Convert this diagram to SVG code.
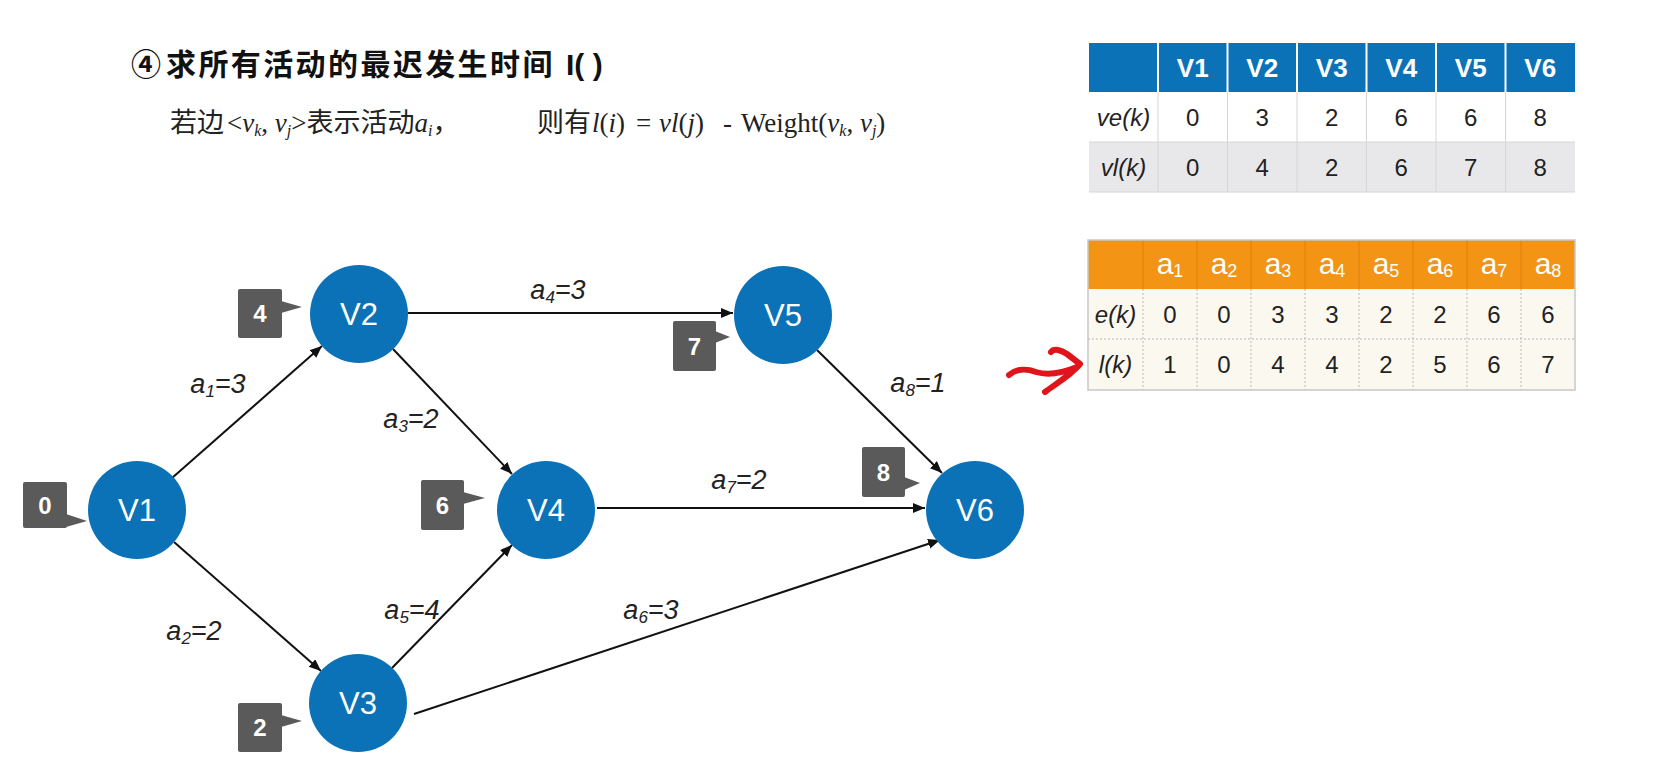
<svg xmlns="http://www.w3.org/2000/svg" width="1664" height="774" viewBox="0 0 1664 774">
<style>
.node{fill:#0B72B8}
.nlabel{font-family:"Liberation Sans",Arial,sans-serif;font-size:31px;fill:#fff;text-anchor:middle}
.badge{fill:#5A5A5A}
.blabel{font-family:"Liberation Sans",Arial,sans-serif;font-size:24px;font-weight:bold;fill:#fff;text-anchor:middle}
.edge{stroke:#111;stroke-width:2;fill:none;marker-end:url(#arrow)}
.elabel{font-family:"Liberation Sans",Arial,sans-serif;font-style:italic;font-size:27px;fill:#222;text-anchor:middle}
.sub{font-size:17px}
.title{font-family:"Liberation Sans","Noto Sans CJK SC",sans-serif;font-weight:bold;font-size:30px;fill:#111}
.cjk{font-family:"Noto Sans CJK SC",sans-serif;font-size:27px;fill:#222}
.math{font-family:"Liberation Serif","Noto Sans CJK SC",serif;font-size:27px;fill:#222}
.msub{font-size:16px}
.it{font-style:italic}
.th1{font-family:"Liberation Sans",Arial,sans-serif;font-weight:bold;font-size:26px;fill:#fff;text-anchor:middle}
.td1{font-family:"Liberation Sans",Arial,sans-serif;font-size:24px;fill:#222;text-anchor:middle}
.th2{font-family:"Liberation Sans",Arial,sans-serif;font-size:30px;fill:#fff;text-anchor:middle}
.th2 .sub{font-size:18px}
.td2{font-family:"Liberation Sans",Arial,sans-serif;font-size:24px;fill:#222;text-anchor:middle}
.dot{stroke:#B8B8B8;stroke-width:1;stroke-dasharray:2 2}
</style>
<defs>
<marker id="arrow" markerUnits="userSpaceOnUse" markerWidth="13" markerHeight="11" refX="12" refY="5" orient="auto">
<path d="M0,0 L12,5 L0,10 z" fill="#111"/>
</marker>
</defs>
<rect width="1664" height="774" fill="#fff"/>

<g id="title">
<text class="title" y="75"><tspan x="131">④</tspan><tspan x="166" letter-spacing="2.4">求所有活动的最迟发生时间</tspan><tspan x="566">I( )</tspan></text>
</g>
<g id="formula">
<text y="132">
<tspan class="cjk" x="170">若边</tspan>
<tspan class="math" x="227">&lt;</tspan><tspan class="math it">v</tspan><tspan class="math it msub" dy="4">k</tspan><tspan class="math" dy="-4">, </tspan><tspan class="math it">v</tspan><tspan class="math it msub" dy="4">j</tspan><tspan class="math" dy="-4">&gt;</tspan><tspan class="cjk">表示活动</tspan><tspan class="math it">a</tspan><tspan class="math it msub" dy="4">i</tspan><tspan class="cjk" dy="-4">，</tspan>
<tspan class="cjk" x="537">则有</tspan>
<tspan class="math it" x="592">l</tspan><tspan class="math">(</tspan><tspan class="math it">i</tspan><tspan class="math">)</tspan>
<tspan class="math" x="636">=</tspan>
<tspan class="math it" x="659">vl</tspan><tspan class="math">(</tspan><tspan class="math it">j</tspan><tspan class="math">)</tspan>
<tspan class="math" x="723">-</tspan>
<tspan class="math" x="741">Weight(</tspan><tspan class="math it">v</tspan><tspan class="math it msub" dy="4">k</tspan><tspan class="math" dy="-4">, </tspan><tspan class="math it">v</tspan><tspan class="math it msub" dy="4">j</tspan><tspan class="math" dy="-4">)</tspan>
</text>
</g>

<g id="connectors">
<line class="edge" x1="172" y1="478" x2="322" y2="346"/>
<line class="edge" x1="174" y1="542" x2="321" y2="671"/>
<line class="edge" x1="393" y1="349" x2="512" y2="474"/>
<line class="edge" x1="408" y1="313" x2="733" y2="313"/>
<line class="edge" x1="392" y1="668" x2="512" y2="545"/>
<line class="edge" x1="414" y1="714" x2="940" y2="540"/>
<line class="edge" x1="597" y1="508" x2="925" y2="508"/>
<line class="edge" x1="817" y1="350" x2="942" y2="473"/>
<text class="elabel" x="218" y="393">a<tspan class="sub" dy="4">1</tspan><tspan dy="-4">=3</tspan></text>
<text class="elabel" x="194" y="640">a<tspan class="sub" dy="4">2</tspan><tspan dy="-4">=2</tspan></text>
<text class="elabel" x="411" y="428">a<tspan class="sub" dy="4">3</tspan><tspan dy="-4">=2</tspan></text>
<text class="elabel" x="558" y="299">a<tspan class="sub" dy="4">4</tspan><tspan dy="-4">=3</tspan></text>
<text class="elabel" x="412" y="619">a<tspan class="sub" dy="4">5</tspan><tspan dy="-4">=4</tspan></text>
<text class="elabel" x="651" y="619">a<tspan class="sub" dy="4">6</tspan><tspan dy="-4">=3</tspan></text>
<text class="elabel" x="739" y="489">a<tspan class="sub" dy="4">7</tspan><tspan dy="-4">=2</tspan></text>
<text class="elabel" x="918" y="392">a<tspan class="sub" dy="4">8</tspan><tspan dy="-4">=1</tspan></text>
</g>

<g id="node-V1">
<circle class="node" cx="137" cy="510" r="49"/>
<text class="nlabel" x="137" y="521">V1</text>
<rect class="badge" x="23" y="482" width="44" height="46" rx="2"/>
<polygon class="badge" points="66,514 87,521 66,527"/>
<text class="blabel" x="45" y="514">0</text>
</g>
<g id="node-V2">
<circle class="node" cx="359" cy="314" r="49"/>
<text class="nlabel" x="359" y="325">V2</text>
<rect class="badge" x="238" y="289" width="44" height="49" rx="2"/>
<polygon class="badge" points="281,301 302,307 281,313"/>
<text class="blabel" x="260" y="322">4</text>
</g>
<g id="node-V3">
<circle class="node" cx="358" cy="703" r="49"/>
<text class="nlabel" x="358" y="714">V3</text>
<rect class="badge" x="238" y="703" width="44" height="49" rx="2"/>
<polygon class="badge" points="281,715 302,721 281,727"/>
<text class="blabel" x="260" y="736">2</text>
</g>
<g id="node-V4">
<circle class="node" cx="546" cy="510" r="49"/>
<text class="nlabel" x="546" y="521">V4</text>
<rect class="badge" x="421" y="480" width="43" height="50" rx="2"/>
<polygon class="badge" points="463,492 485,498 463,504"/>
<text class="blabel" x="442.5" y="514">6</text>
</g>
<g id="node-V5">
<circle class="node" cx="783" cy="315" r="49"/>
<text class="nlabel" x="783" y="326">V5</text>
<rect class="badge" x="673" y="321" width="43" height="50" rx="2"/>
<polygon class="badge" points="715,331 730,337 715,343"/>
<text class="blabel" x="694.5" y="355">7</text>
</g>
<g id="node-V6">
<circle class="node" cx="975" cy="510" r="49"/>
<text class="nlabel" x="975" y="521">V6</text>
<rect class="badge" x="862" y="447" width="43" height="50" rx="2"/>
<polygon class="badge" points="904,477 920,483 904,490"/>
<text class="blabel" x="883.5" y="481">8</text>
</g>

<g id="table-vertex">
<rect x="1089" y="43" width="486" height="49" fill="#0B72B8"/>
<rect x="1089" y="92" width="486" height="50" fill="#fff"/>
<rect x="1089" y="142" width="486" height="50" fill="#E8E8EB"/>
<g stroke="#fff" stroke-width="2">
<line x1="1158" y1="43" x2="1158" y2="92"/><line x1="1227.5" y1="43" x2="1227.5" y2="92"/><line x1="1297" y1="43" x2="1297" y2="92"/><line x1="1366.5" y1="43" x2="1366.5" y2="92"/><line x1="1436" y1="43" x2="1436" y2="92"/><line x1="1505.5" y1="43" x2="1505.5" y2="92"/>
</g>
<g stroke="#D6D6D9" stroke-width="1">
<line x1="1158" y1="92" x2="1158" y2="192"/><line x1="1227.5" y1="92" x2="1227.5" y2="192"/><line x1="1297" y1="92" x2="1297" y2="192"/><line x1="1366.5" y1="92" x2="1366.5" y2="192"/><line x1="1436" y1="92" x2="1436" y2="192"/><line x1="1505.5" y1="92" x2="1505.5" y2="192"/>
<line x1="1089" y1="142" x2="1575" y2="142"/><line x1="1089" y1="192" x2="1575" y2="192"/>
</g>
<text class="th1" x="1192.75" y="77">V1</text><text class="th1" x="1262.25" y="77">V2</text><text class="th1" x="1331.75" y="77">V3</text><text class="th1" x="1401.25" y="77">V4</text><text class="th1" x="1470.75" y="77">V5</text><text class="th1" x="1540.25" y="77">V6</text>
<text class="td1" x="1123.5" y="126" font-style="italic">ve(k)</text>
<text class="td1" x="1192.75" y="126">0</text><text class="td1" x="1262.25" y="126">3</text><text class="td1" x="1331.75" y="126">2</text><text class="td1" x="1401.25" y="126">6</text><text class="td1" x="1470.75" y="126">6</text><text class="td1" x="1540.25" y="126">8</text>
<text class="td1" x="1123.5" y="176" font-style="italic">vl(k)</text>
<text class="td1" x="1192.75" y="176">0</text><text class="td1" x="1262.25" y="176">4</text><text class="td1" x="1331.75" y="176">2</text><text class="td1" x="1401.25" y="176">6</text><text class="td1" x="1470.75" y="176">7</text><text class="td1" x="1540.25" y="176">8</text>
</g>

<g id="table-activity">
<rect x="1088" y="240" width="487" height="49" fill="#F39414"/>
<rect x="1088" y="289" width="487" height="101" fill="#FBF8EF"/>
<g stroke="#DC820C" stroke-width="1">
<line x1="1143" y1="240" x2="1143" y2="289"/><line x1="1197" y1="240" x2="1197" y2="289"/><line x1="1251" y1="240" x2="1251" y2="289"/><line x1="1305" y1="240" x2="1305" y2="289"/><line x1="1359" y1="240" x2="1359" y2="289"/><line x1="1413" y1="240" x2="1413" y2="289"/><line x1="1467" y1="240" x2="1467" y2="289"/><line x1="1521" y1="240" x2="1521" y2="289"/>
</g>
<g class="dot">
<line x1="1143" y1="289" x2="1143" y2="390"/><line x1="1197" y1="289" x2="1197" y2="390"/><line x1="1251" y1="289" x2="1251" y2="390"/><line x1="1305" y1="289" x2="1305" y2="390"/><line x1="1359" y1="289" x2="1359" y2="390"/><line x1="1413" y1="289" x2="1413" y2="390"/><line x1="1467" y1="289" x2="1467" y2="390"/><line x1="1521" y1="289" x2="1521" y2="390"/>
<line x1="1088" y1="339" x2="1575" y2="339"/>
</g>
<rect x="1088" y="240" width="487" height="150" fill="none" stroke="#C8C8C8" stroke-width="1.5"/>
<text class="th2" x="1170" y="274">a<tspan class="sub" dy="3">1</tspan></text>
<text class="th2" x="1224" y="274">a<tspan class="sub" dy="3">2</tspan></text>
<text class="th2" x="1278" y="274">a<tspan class="sub" dy="3">3</tspan></text>
<text class="th2" x="1332" y="274">a<tspan class="sub" dy="3">4</tspan></text>
<text class="th2" x="1386" y="274">a<tspan class="sub" dy="3">5</tspan></text>
<text class="th2" x="1440" y="274">a<tspan class="sub" dy="3">6</tspan></text>
<text class="th2" x="1494" y="274">a<tspan class="sub" dy="3">7</tspan></text>
<text class="th2" x="1548" y="274">a<tspan class="sub" dy="3">8</tspan></text>
<text class="td2" x="1115.5" y="323" font-style="italic">e(k)</text>
<text class="td2" x="1170" y="323">0</text><text class="td2" x="1224" y="323">0</text><text class="td2" x="1278" y="323">3</text><text class="td2" x="1332" y="323">3</text><text class="td2" x="1386" y="323">2</text><text class="td2" x="1440" y="323">2</text><text class="td2" x="1494" y="323">6</text><text class="td2" x="1548" y="323">6</text>
<text class="td2" x="1115.5" y="373" font-style="italic">l(k)</text>
<text class="td2" x="1170" y="373">1</text><text class="td2" x="1224" y="373">0</text><text class="td2" x="1278" y="373">4</text><text class="td2" x="1332" y="373">4</text><text class="td2" x="1386" y="373">2</text><text class="td2" x="1440" y="373">5</text><text class="td2" x="1494" y="373">6</text><text class="td2" x="1548" y="373">7</text>
</g>

<g id="red-mark">
<path d="M1009,375 C1017,368 1028,369 1036,372 C1046,375 1060,374 1077,367 M1051,352 C1054,348 1061,350 1067,354 L1080,364 C1071,375 1057,383 1045,392" fill="none" stroke="#E0141B" stroke-width="6" stroke-linecap="round" stroke-linejoin="round"/>
</g>
</svg>
